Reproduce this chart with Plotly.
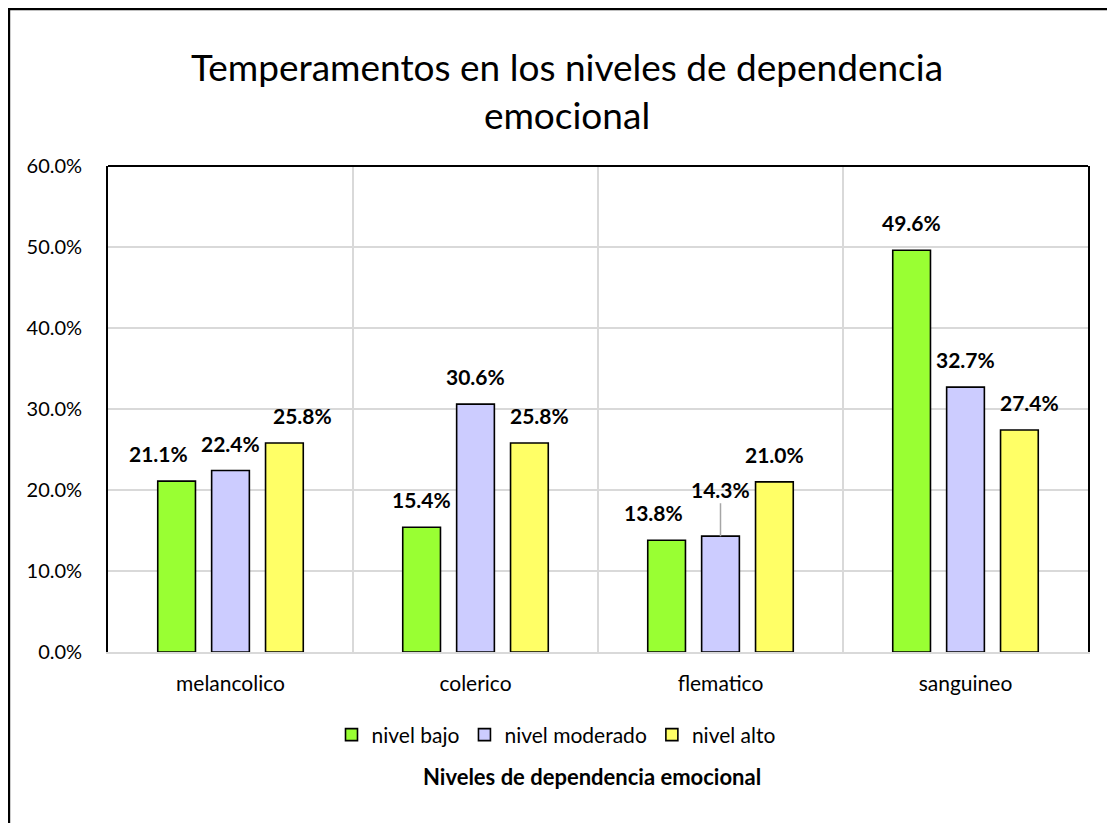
import plotly.graph_objects as go

categories = ["melancolico", "colerico", "flematico", "sanguineo"]
series_names = ["nivel bajo", "nivel moderado", "nivel alto"]
nivel_bajo = [0.211, 0.154, 0.138, 0.496]
nivel_moderado = [0.224, 0.306, 0.143, 0.327]
nivel_alto = [0.258, 0.258, 0.210, 0.274]
series_values = [nivel_bajo, nivel_moderado, nivel_alto]
colors = ["#99FF33", "#CCCCFF", "#FFFF66"]
y_ticks = [0, 0.1, 0.2, 0.3, 0.4, 0.5, 0.6]

# label nudges (px) imitating the manual placement in the source chart
label_dx = [[-18, 0, 18], [0, 0, 10], [-13, 0, 0], [0, 0, 10]]

FONT = "Lato, 'Open Sans', sans-serif"
OFF = 8  # page body margin
W, H = 1115 - OFF, 823 - OFF
ML, MR, MT, MB = 100, 27, 158, 171
PW = W - ML - MR
PH = H - MT - MB
BARGAP = 0.34
BARGROUPGAP = 0.30

fig = go.Figure()
for name, vals, col in zip(series_names, series_values, colors):
    fig.add_trace(go.Bar(
        name=name, x=categories, y=vals,
        marker=dict(color=col, line=dict(color="black", width=1.6)),
        hoverinfo="x+y",
    ))

cat_px = PW / len(categories)
slot_px = (1 - BARGAP) * cat_px / len(series_names)
annotations = []
for s, vals in enumerate(series_values):
    off = (s - (len(series_names) - 1) / 2) * slot_px
    for c, v in enumerate(vals):
        leader = (s == 1 and c == 2)
        a = dict(
            x=categories[c], y=v, xref="x", yref="y",
            text=f"<b>{v*100:.1f}%</b>",
            font=dict(family=FONT, size=21, color="black"),
            xshift=off + label_dx[c][s],
        )
        if leader:
            a.update(showarrow=True, arrowhead=0, arrowwidth=1.5,
                     arrowcolor="#A6A6A6", ax=0, ay=-47, standoff=0)
        else:
            a.update(showarrow=False, yanchor="bottom", yshift=13)
        annotations.append(a)


def px_x(p):
    return (p - OFF - ML) / PW


def px_y(p):
    return (MT + PH - (p - OFF)) / PH


# x-axis title (sits under the legend in the source)
annotations.append(dict(
    x=px_x(592), y=px_y(776), xref="paper", yref="paper",
    text="<b>Niveles de dependencia emocional</b>", showarrow=False,
    font=dict(family=FONT, size=22, color="black"),
    xanchor="center", yanchor="middle",
))

shapes = [
    # top edge of plot area (black)
    dict(type="line", xref="paper", yref="paper", x0=0, x1=1, y0=1, y1=1,
         line=dict(color="black", width=1.8)),
    # outer chart frame (top and left)
    dict(type="line", xref="paper", yref="paper", x0=px_x(8), x1=px_x(1130),
         y0=px_y(9), y1=px_y(9), line=dict(color="black", width=2.4)),
    dict(type="line", xref="paper", yref="paper", x0=px_x(9), x1=px_x(9),
         y0=px_y(8), y1=px_y(840), line=dict(color="black", width=2.4)),
]

fig.update_layout(
    width=W, height=H,
    margin=dict(l=ML, r=MR, t=MT, b=MB),
    paper_bgcolor="white", plot_bgcolor="white",
    barmode="group", bargap=BARGAP, bargroupgap=BARGROUPGAP,
    font=dict(family=FONT, size=21, color="black"),
    title=dict(
        text="Temperamentos en los niveles de dependencia<br>emocional",
        x=(567 - OFF) / W, xanchor="center", y=1 - (81 - OFF) / H,
        yanchor="middle", xref="container", yref="container",
        font=dict(family=FONT, size=37, color="black"),
    ),
    legend=dict(
        orientation="h", x=px_x(556), y=px_y(735), xanchor="center",
        yanchor="middle", font=dict(family=FONT, size=21, color="black"),
        itemwidth=30, traceorder="normal",
    ),
    xaxis=dict(
        type="category", tickson="boundaries", showgrid=True,
        gridcolor="#D9D9D9", gridwidth=1.5, showline=True,
        linecolor="#D9D9D9", linewidth=2, ticks="", ticklabelstandoff=12,
        tickfont=dict(family=FONT, size=21, color="black"),
    ),
    yaxis=dict(
        range=[0, 0.6], tickvals=y_ticks, tickformat=".1%",
        showgrid=True, gridcolor="#D9D9D9", gridwidth=1.5,
        showline=True, mirror=True, linecolor="black", linewidth=1.8,
        zeroline=False, ticks="", ticklabelstandoff=20,
        tickfont=dict(family=FONT, size=20, color="black"),
    ),
    annotations=annotations,
    shapes=shapes,
)

fig.write_html("out.html")
